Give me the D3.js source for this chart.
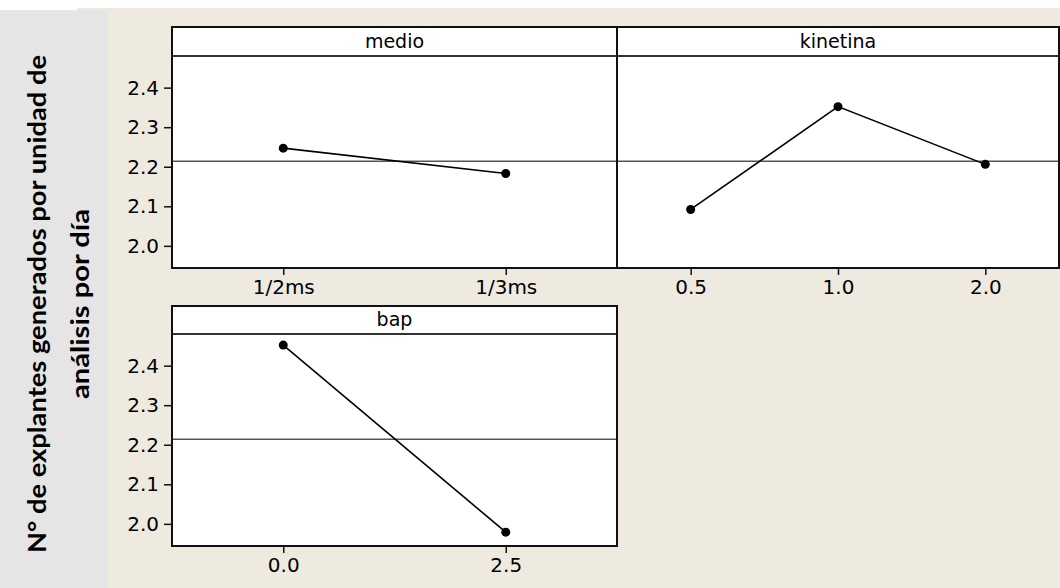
<!DOCTYPE html>
<html><head><meta charset="utf-8">
<script src="https://cdn.jsdelivr.net/npm/d3@7"></script>
<style>body{margin:0;background:#fff;}svg{display:block;}</style>
</head><body>
<svg id="c" width="1060" height="588"></svg>
<script>
const medioLevels = ["1/2ms", "1/3ms"];
const medioMeans = [2.247, 2.183];
const kinetinaLevels = ["0.5", "1.0", "2.0"];
const kinetinaMeans = [2.092, 2.352, 2.206];
const bapLevels = ["0.0", "2.5"];
const bapMeans = [2.452, 1.979];
const grandMean = 2.214;
const yTicks = [2.0, 2.1, 2.2, 2.3, 2.4];
const yTitleLines = ["N° de explantes generados por unidad de", "análisis por día"];

const svg = d3.select("#c");
svg.append("rect").attr("x", 77).attr("y", 8).attr("width", 983).attr("height", 580).attr("fill", "#EEEAE0");
svg.append("rect").attr("x", 0).attr("y", 10).attr("width", 108).attr("height", 578).attr("fill", "#E5E5E5");

const panels = [
  {name: "medio", levels: medioLevels, means: medioMeans, x0: 172, x1: 617, top: 27, hb: 56, bottom: 268, yAxis: true},
  {name: "kinetina", levels: kinetinaLevels, means: kinetinaMeans, x0: 617, x1: 1059, top: 27, hb: 56, bottom: 268, yAxis: false},
  {name: "bap", levels: bapLevels, means: bapMeans, x0: 172, x1: 617, top: 306, hb: 334, bottom: 546, yAxis: true}
];

const font = "'DejaVu Sans', Verdana, sans-serif";

panels.forEach(p => {
  const g = svg.append("g");
  const x = d3.scalePoint().domain(p.levels).range([p.x0, p.x1]).padding(0.5);
  const y = d3.scaleLinear().domain([1.944, 2.480]).range([p.bottom, p.hb]);
  g.append("rect").attr("x", p.x0).attr("y", p.top).attr("width", p.x1 - p.x0).attr("height", p.bottom - p.top)
    .attr("fill", "#fff");
  g.append("line").attr("x1", p.x0).attr("x2", p.x1).attr("y1", y(grandMean)).attr("y2", y(grandMean))
    .attr("stroke", "#555").attr("stroke-width", 1.6);
  const data = p.levels.map((l, i) => ({l, v: p.means[i]}));
  g.append("path").datum(data)
    .attr("d", d3.line().x(d => x(d.l)).y(d => y(d.v)))
    .attr("fill", "none").attr("stroke", "#000").attr("stroke-width", 1.6);
  g.selectAll("circle").data(data).join("circle")
    .attr("cx", d => x(d.l)).attr("cy", d => y(d.v)).attr("r", 4.5).attr("fill", "#000");
  g.append("line").attr("x1", p.x0).attr("x2", p.x1).attr("y1", p.hb).attr("y2", p.hb)
    .attr("stroke", "#333").attr("stroke-width", 1.8);
  g.append("text").attr("x", (p.x0 + p.x1) / 2).attr("y", p.hb - 8).attr("text-anchor", "middle")
    .attr("font-family", font).attr("font-size", 19).attr("fill", "#000").text(p.name);
  g.append("rect").attr("x", p.x0).attr("y", p.top).attr("width", p.x1 - p.x0).attr("height", p.bottom - p.top)
    .attr("fill", "none").attr("stroke", "#111").attr("stroke-width", 2);
  const xa = g.append("g").attr("transform", `translate(0,${p.bottom})`)
    .call(d3.axisBottom(x).tickSize(7).tickPadding(5).tickSizeOuter(0));
  xa.select(".domain").remove();
  xa.selectAll("line").attr("stroke", "#111").attr("stroke-width", 1.5);
  xa.selectAll("text").attr("font-family", font).attr("font-size", 20).attr("fill", "#000");
  if (p.yAxis) {
    const ya = g.append("g").attr("transform", `translate(${p.x0},0)`)
      .call(d3.axisLeft(y).tickValues(yTicks).tickFormat(d3.format(".1f")).tickSize(8).tickPadding(5).tickSizeOuter(0));
    ya.select(".domain").remove();
    ya.selectAll("line").attr("stroke", "#111").attr("stroke-width", 1.5);
    ya.selectAll("text").attr("font-family", font).attr("font-size", 20).attr("fill", "#000");
  }
});

const tg = svg.append("g").attr("transform", "translate(0,304) rotate(-90)");
tg.append("text").attr("x", 0).attr("y", 46).attr("text-anchor", "middle")
  .attr("font-family", "Lato, 'Open Sans', sans-serif").attr("font-weight", "bold").attr("font-size", 24)
  .attr("textLength", 498).attr("lengthAdjust", "spacingAndGlyphs")
  .attr("fill", "#000").text(yTitleLines[0]);
tg.append("text").attr("x", 0).attr("y", 89).attr("text-anchor", "middle")
  .attr("font-family", "Lato, 'Open Sans', sans-serif").attr("font-weight", "bold").attr("font-size", 24)
  .attr("textLength", 190).attr("lengthAdjust", "spacingAndGlyphs")
  .attr("fill", "#000").text(yTitleLines[1]);
</script>
</body></html>
